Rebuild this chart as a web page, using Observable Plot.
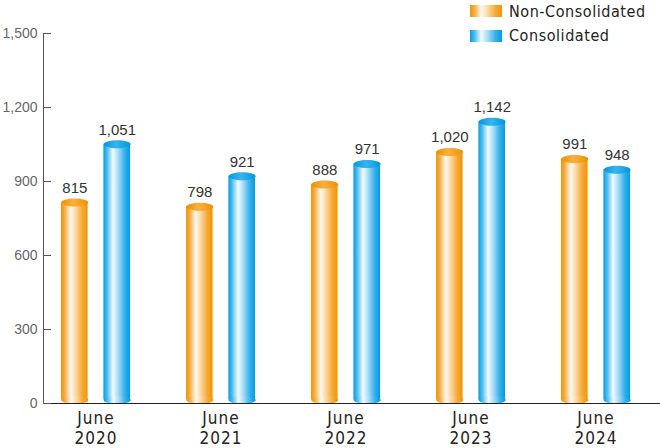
<!DOCTYPE html>
<html>
<head>
<meta charset="utf-8">
<script src="https://cdn.jsdelivr.net/npm/d3@7"></script>
<script src="https://cdn.jsdelivr.net/npm/@observablehq/plot@0.6"></script>
<style>
  html, body { margin: 0; padding: 0; background: #fff; }
  #wrap { position: relative; width: 660px; height: 448px; }
  #legend { position: absolute; left: 470px; top: -1px; font-family: "DejaVu Sans Condensed", "Liberation Sans", sans-serif; font-size: 16px; color: #222; letter-spacing: 0.55px; }
  .row { display: flex; align-items: center; height: 24.5px; }
  .sw { width: 32px; height: 12px; margin-right: 7px; }
  .sw.o { background: linear-gradient(to right, #f29400 0%, #f6b04a 15%, #fff8ee 35%, #fbd9a6 55%, #f5a933 80%, #f29400 100%); }
  .sw.b { background: linear-gradient(to right, #009de3 0%, #55bff0 15%, #f2fbff 35%, #a9ddf6 55%, #35b0ec 80%, #009de3 100%); }
  svg [aria-label="x-axis tick label"] text { letter-spacing: 1px; }
</style>
</head>
<body>
<div id="wrap">
  <div id="chart"></div>
  <div id="legend"></div>
</div>
<script>
const years = ["2020", "2021", "2022", "2023", "2024"];
const seriesNames = ["Non-Consolidated", "Consolidated"];
const nonConsolidated = [815, 798, 888, 1020, 991];
const consolidated = [1051, 921, 971, 1142, 948];
const yTicks = [0, 300, 600, 900, 1200, 1500];

const dataNC = years.map((y, i) => ({year: y, value: nonConsolidated[i]}));
const dataC = years.map((y, i) => ({year: y, value: consolidated[i]}));

// ellipse symbol for cylinder caps
function ellipseSymbol(rx, ry) {
  const k = 0.5523;
  return {
    draw(ctx) {
      ctx.moveTo(-rx, 0);
      ctx.bezierCurveTo(-rx, -ry * k, -rx * k, -ry, 0, -ry);
      ctx.bezierCurveTo(rx * k, -ry, rx, -ry * k, rx, 0);
      ctx.bezierCurveTo(rx, ry * k, rx * k, ry, 0, ry);
      ctx.bezierCurveTo(-rx * k, ry, -rx, ry * k, -rx, 0);
      ctx.closePath();
    }
  };
}
const cap = ellipseSymbol(13.5, 4);

function defsMark() {
  const defs = d3.create("svg:defs");
  const grads = {
    gO: [[0, "#f29400"], [0.15, "#f6b04a"], [0.36, "#fff8ee"], [0.55, "#fbd9a6"], [0.8, "#f5a933"], [1, "#f29400"]],
    gB: [[0, "#009de3"], [0.15, "#55bff0"], [0.36, "#f2fbff"], [0.55, "#a9ddf6"], [0.8, "#35b0ec"], [1, "#009de3"]],
    cO: [[0, "#ee9000"], [0.45, "#f8b040"], [1, "#ee9000"]],
    cB: [[0, "#0098dc"], [0.45, "#38b4ee"], [1, "#0098dc"]]
  };
  for (const [id, stops] of Object.entries(grads)) {
    const g = defs.append("linearGradient").attr("id", id).attr("x1", "0").attr("x2", "1").attr("y1", "0").attr("y2", "0");
    for (const [o, c] of stops) g.append("stop").attr("offset", o).attr("stop-color", c);
  }
  return defs.node();
}

const off = 21.2;
const chart = Plot.plot({
  width: 660,
  height: 448,
  marginTop: 33,
  marginBottom: 45,
  marginLeft: 43,
  marginRight: 0,
  style: {fontFamily: "Liberation Sans, Arial, sans-serif", background: "transparent"},
  x: {type: "band", domain: years, range: [32, 659], padding: 0},
  y: {domain: [0, 1500], nice: false},
  marks: [
    defsMark,
    Plot.barY(dataNC, {x: "year", y: "value", fill: "url(#gO)", insetLeft: 28, insetRight: 70.4, insetBottom: 3.5}),
    Plot.barY(dataC, {x: "year", y: "value", fill: "url(#gB)", insetLeft: 70.4, insetRight: 28, insetBottom: 3.5}),
    Plot.dot(dataNC, {x: "year", y: () => 0, dx: -off, dy: -3.5, symbol: cap, fill: "url(#gO)", stroke: "none"}),
    Plot.dot(dataC, {x: "year", y: () => 0, dx: off, dy: -3.5, symbol: cap, fill: "url(#gB)", stroke: "none"}),
    Plot.dot(dataNC, {x: "year", y: "value", dx: -off, symbol: cap, fill: "url(#cO)", stroke: "none"}),
    Plot.dot(dataC, {x: "year", y: "value", dx: off, symbol: cap, fill: "url(#cB)", stroke: "none"}),
    Plot.text(dataNC, {x: "year", y: "value", dx: -off, dy: -14.5, text: d => d3.format(",")(d.value), fontSize: 15, fill: "#333"}),
    Plot.text(dataC, {x: "year", y: "value", dx: off, dy: -14.5, text: d => d3.format(",")(d.value), fontSize: 15, fill: "#333"}),
    Plot.frame({anchor: "left", stroke: "#555"}),
    Plot.frame({anchor: "bottom", stroke: "#222"}),
    Plot.axisY({ticks: yTicks, tickSize: -8, tickPadding: 14, tickFormat: d3.format(","), fontSize: 14, color: "#666", stroke: "#555", label: null}),
    Plot.axisX({tickSize: 0, tickPadding: 6, tickFormat: d => "June\n" + d, fontSize: 17, lineHeight: 1.17, fill: "#222", fontFamily: "DejaVu Sans Condensed, sans-serif", label: null})
  ]
});
document.getElementById("chart").appendChild(chart);

const legend = document.getElementById("legend");
seriesNames.forEach((name, i) => {
  const row = document.createElement("div");
  row.className = "row";
  const sw = document.createElement("div");
  sw.className = "sw " + (i === 0 ? "o" : "b");
  const t = document.createElement("span");
  t.textContent = name;
  row.appendChild(sw);
  row.appendChild(t);
  legend.appendChild(row);
});
</script>
</body>
</html>
